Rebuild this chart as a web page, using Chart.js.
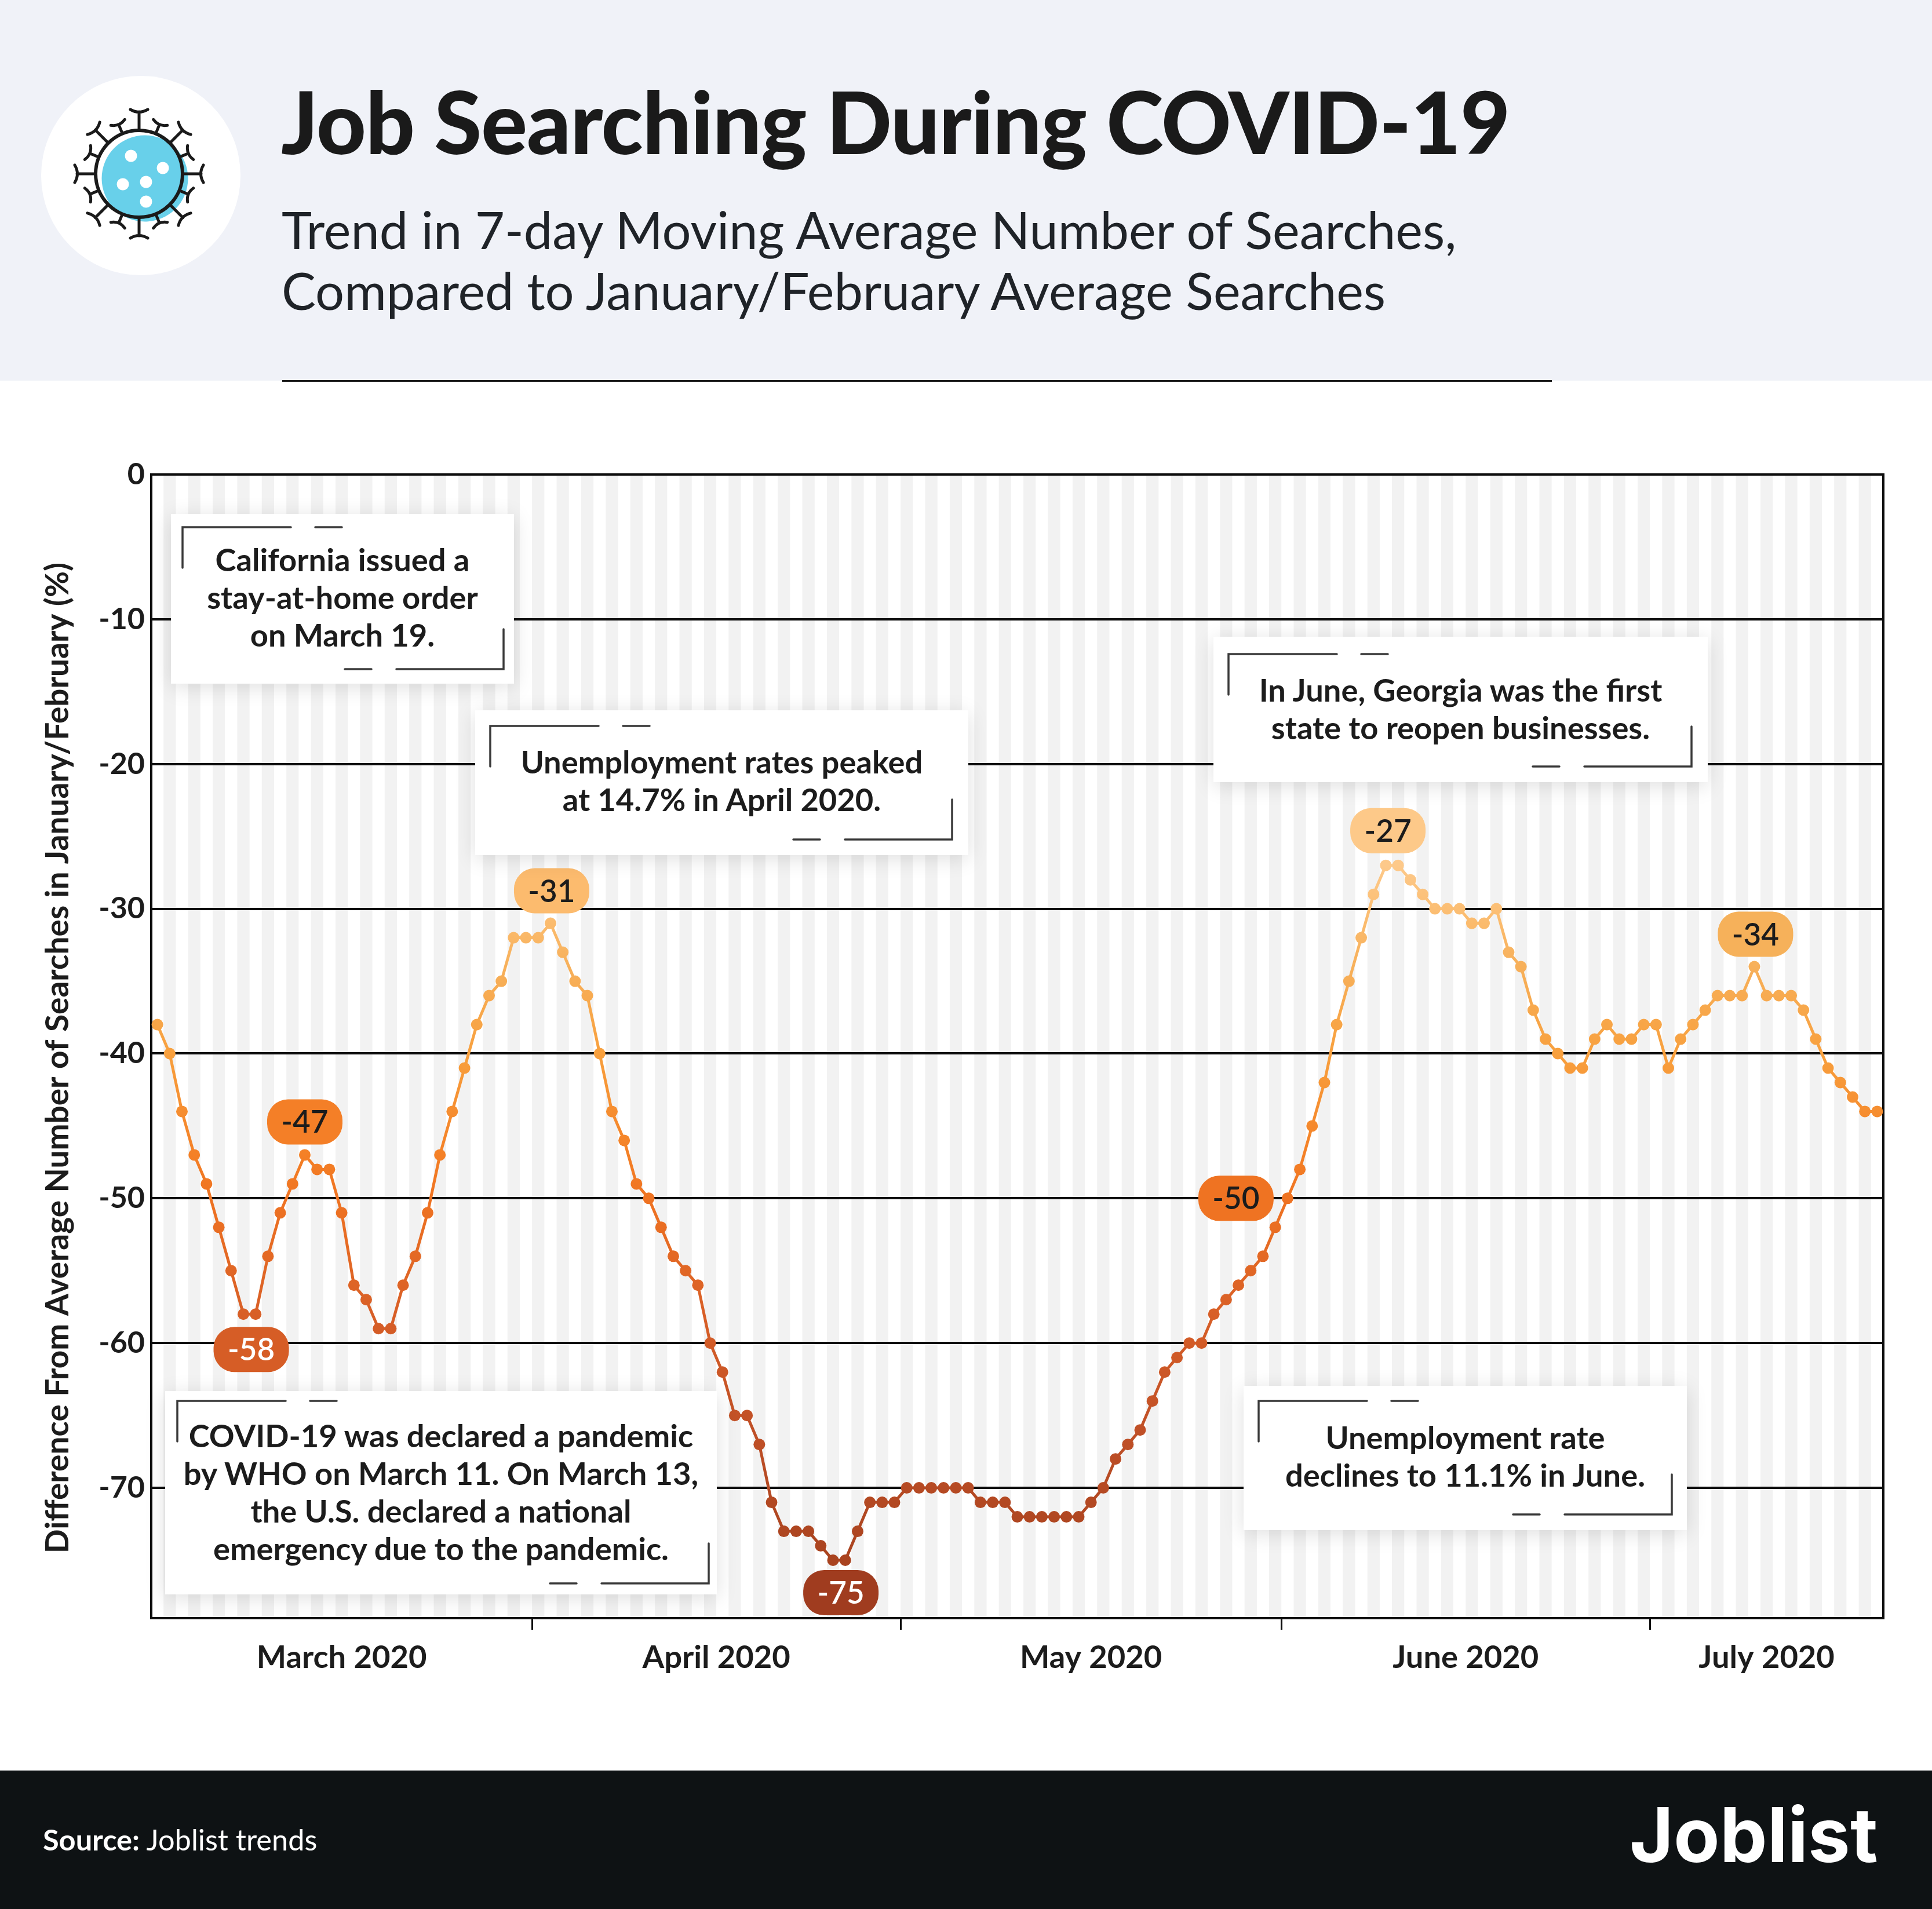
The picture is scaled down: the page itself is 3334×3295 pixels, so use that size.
<!DOCTYPE html>
<html>
<head>
<meta charset="utf-8">
<title>Job Searching During COVID-19</title>
<script src="https://cdn.jsdelivr.net/npm/chart.js@4"></script>
<style>
  html, body { margin: 0; padding: 0; background: #fff; }
  body { position: relative; width: 3334px; height: 3295px; overflow: hidden; font-family: Lato, sans-serif; color: #1c1c1c; }
  #entete { position: absolute; left: 0; top: 0; width: 3334px; height: 657px; background: #f0f2f8; }
  #rond { position: absolute; left: 71px; top: 131px; width: 344px; height: 344px; border-radius: 50%; background: #fff; }
  #virus { position: absolute; left: 68px; top: 128px; width: 344px; height: 344px; }
  #titre { position: absolute; left: 485px; top: 119px; font-size: 149px; line-height: 180px; font-weight: 900; letter-spacing: -1.05px; white-space: nowrap; color: #1a1a1a; }
  #soustitre { position: absolute; left: 486px; top: 344px; font-size: 88.3px; line-height: 105px; font-weight: 400; white-space: nowrap; color: #1f2328; }
  #filet { position: absolute; left: 487px; top: 656px; width: 2191px; height: 3px; background: #1a1a1a; }
  #graphe { position: absolute; left: 0; top: 700px; }
  .note { position: absolute; background: #fff; box-shadow: 0 6px 34px rgba(0,0,0,.13); }
  .note svg { position: absolute; left: 0; top: 0; }
  .note div { position: absolute; left: 0; right: 0; text-align: center; font-size: 54.3px; line-height: 65px; font-weight: 700; white-space: nowrap; color: #1c1c1c; }
  #pied { position: absolute; left: 0; top: 3056px; width: 3334px; height: 239px; background: #0e1214; color: #fff; }
  #source { position: absolute; left: 74px; top: 89px; font-size: 50.5px; line-height: 60px; white-space: nowrap; }
  #logo { position: absolute; left: 2812px; top: 31px; font-family: Inter, sans-serif; font-size: 130px; line-height: 160px; font-weight: 700; letter-spacing: 0; white-space: nowrap; }
</style>
</head>
<body>
<div id="entete">
  <div id="rond"></div>
  <svg id="virus" viewBox="-172 -172 344 344"></svg>
  <div id="titre">Job Searching During COVID-19</div>
  <div id="soustitre">Trend in 7-day Moving Average Number of Searches,<br>Compared to January/February Average Searches</div>
</div>
<div id="filet"></div>
<canvas id="graphe" width="3334" height="2300"></canvas>
<div id="pied">
  <div id="source"><b>Source:</b> Joblist trends</div>
  <div id="logo">Joblist</div>
</div>

<script>
// Données : une valeur par jour, du 1er mars au 19 juillet 2020
const jours = [];
for (let d = new Date(Date.UTC(2020, 2, 1)); d <= new Date(Date.UTC(2020, 6, 19)); d.setUTCDate(d.getUTCDate() + 1)) {
  jours.push(d.toISOString().slice(0, 10));
}
const recherches = [
  -38, -40, -44, -47, -49, -52, -55, -58, -58, -54, -51, -49, -47, -48, -48, -51, -56, -57, -59, -59, -56, -54, -51, -47, -44, -41, -38, -36, -35, -32, -32,
  -32, -31, -33, -35, -36, -40, -44, -46, -49, -50, -52, -54, -55, -56, -60, -62, -65, -65, -67, -71, -73, -73, -73, -74, -75, -75, -73, -71, -71, -71,
  -70, -70, -70, -70, -70, -70, -71, -71, -71, -72, -72, -72, -72, -72, -72, -71, -70, -68, -67, -66, -64, -62, -61, -60, -60, -58, -57, -56, -55, -54, -52,
  -50, -48, -45, -42, -38, -35, -32, -29, -27, -27, -28, -29, -30, -30, -30, -31, -31, -30, -33, -34, -37, -39, -40, -41, -41, -39, -38, -39, -39, -38, -38,
  -41, -39, -38, -37, -36, -36, -36, -34, -36, -36, -36, -37, -39, -41, -42, -43, -44, -44,
];
const graduationsY = [0, -10, -20, -30, -40, -50, -60, -70];
const minimumY = -79;

// index du premier jour de chaque mois (avril à juillet), et milieu de chaque mois
const debutsMois = [31, 61, 92, 122];
const milieuxMois = [15, 45.5, 76, 106.5, 131];
const nomsMois = ["March 2020", "April 2020", "May 2020", "June 2020", "July 2020"];

// pastilles : valeur affichée et position dans la série
const pastilleValeurs = [-47, -58, -31, -50, -75, -27, -34];
const pastilleIndex = [12, 7.5, 32, 92, 55.5, 100.5, 130];

// dégradé de la courbe suivant la valeur
const degradeValeurs = [-27, -31, -34, -40, -47, -50, -58, -66, -75];
const degradeCouleurs = ["#fdc98a", "#fbbb6d", "#f7b05a", "#f8a03e", "#f48026", "#ef7322", "#d85f27", "#c05027", "#a9431f"];

const NOIR = "#0d0d0d";
const POLICE = "Lato, sans-serif";

// style des pastilles, dans l'ordre de pastilleValeurs
const pastilleStyles = [
  { dx: 0, dy: -57, fond: "#f47f27", texte: "#1c1c1c" },
  { dx: 3, dy: 61, fond: "#d65d26", texte: "#ffffff" },
  { dx: 2, dy: -56, fond: "#fcbb6e", texte: "#1c1c1c" },
  { dx: -89, dy: 0, fond: "#ef7322", texte: "#1c1c1c" },
  { dx: 3, dy: 56, fond: "#a03c1f", texte: "#ffffff" },
  { dx: -7, dy: -60, fond: "#fdc989", texte: "#1c1c1c" },
  { dx: 2, dy: -56, fond: "#f6b15a", texte: "#1c1c1c" },
];

// encadrés de texte
const notes = [
  { x: 295, y: 887, l: 592, h: 293, cx: 20, cy: 23, dx: 18, dy: 25, haut: 46, lignes: ["California issued a", "stay-at-home order", "on March 19."] },
  { x: 820, y: 1226, l: 851, h: 250, cx: 26, cy: 27, dx: 28, dy: 27, haut: 56, lignes: ["Unemployment rates peaked", "at 14.7% in April 2020."] },
  { x: 2094, y: 1099, l: 853, h: 251, cx: 26, cy: 30, dx: 28, dy: 27, haut: 59, lignes: ["In June, Georgia was the first", "state to reopen businesses."] },
  { x: 285, y: 2401, l: 952, h: 351, cx: 21, cy: 17, dx: 14, dy: 19, haut: 44, lignes: ["COVID-19 was declared a pandemic", "by WHO on March 11. On March 13,", "the U.S. declared a national", "emergency due to the pandemic."] },
  { x: 2146, y: 2392, l: 765, h: 249, cx: 26, cy: 26, dx: 26, dy: 27, haut: 56, lignes: ["Unemployment rate", "declines to 11.1% in June."] },
];

function dessinerVirus() {
  let svg = "";
  svg += `<circle cx="10" cy="8" r="74.5" fill="#68d0ea"/>`;
  [[-14, -31], [41, -10], [-28, 18], [12, 14], [12, 48]].forEach(([x, y]) => {
    svg += `<circle cx="${x}" cy="${y}" r="10.5" fill="#fff"/>`;
  });
  svg += `<circle cx="0" cy="0" r="75" fill="none" stroke="#1a1a1a" stroke-width="6"/>`;
  for (let i = 0; i < 16; i++) {
    const angle = i * 22.5;
    const forme = i % 2 === 0
      ? "M0,-76 V-107 M-15,-111 Q0,-102 15,-111"
      : "M0,-76 V-90 M-13,-96 Q0,-88 13,-96";
    svg += `<path d="${forme}" transform="rotate(${angle})" fill="none" stroke="#1a1a1a" stroke-width="5" stroke-linecap="round"/>`;
  }
  document.getElementById("virus").innerHTML = svg;
}

function dessinerNotes() {
  notes.forEach((n) => {
    const boite = document.createElement("div");
    boite.className = "note";
    boite.style.cssText = `left:${n.x}px;top:${n.y}px;width:${n.l}px;height:${n.h}px`;
    const rx = n.l - n.dx;
    const ry = n.h - n.dy;
    const traits = [
      `M${n.cx},${n.cy + 70} V${n.cy} H${n.cx + 187}`,
      `M${n.cx + 229},${n.cy} H${n.cx + 275}`,
      `M${rx},${ry - 69} V${ry} H${rx - 185}`,
      `M${rx - 228},${ry} H${rx - 274}`,
    ];
    boite.innerHTML = `<svg width="${n.l}" height="${n.h}"><path d="${traits.join(" ")}" fill="none" stroke="#3a3a3a" stroke-width="3.5" stroke-linecap="round"/></svg>`
      + n.lignes.map((ligne, i) => `<div style="top:${n.haut + i * 65}px">${ligne}</div>`).join("");
    document.body.appendChild(boite);
  });
}

function couleurDegrade(chart) {
  const y = chart.scales.y;
  if (!y || !chart.chartArea) return degradeCouleurs[0];
  const haut = y.getPixelForValue(degradeValeurs[0]);
  const bas = y.getPixelForValue(degradeValeurs[degradeValeurs.length - 1]);
  const degrade = chart.ctx.createLinearGradient(0, haut, 0, bas);
  degradeValeurs.forEach((v, i) => {
    degrade.addColorStop((y.getPixelForValue(v) - haut) / (bas - haut), degradeCouleurs[i]);
  });
  return degrade;
}

// bandes grises, un jour sur deux
const bandes = {
  id: "bandes",
  beforeDraw(chart) {
    const { ctx, chartArea: a, scales: { x } } = chart;
    const largeur = x.getPixelForValue(1) - x.getPixelForValue(0);
    ctx.save();
    ctx.fillStyle = "#f2f2f2";
    jours.forEach((j, i) => {
      if (i % 2 === 1) ctx.fillRect(x.getPixelForValue(i) - largeur / 2, a.top, largeur, a.bottom - a.top);
    });
    ctx.restore();
  },
};

// cadre noir autour du tracé
const cadre = {
  id: "cadre",
  beforeDatasetsDraw(chart) {
    const { ctx, chartArea: a } = chart;
    ctx.save();
    ctx.strokeStyle = NOIR;
    ctx.lineWidth = 4;
    ctx.strokeRect(a.left, a.top, a.right - a.left, a.bottom - a.top);
    ctx.restore();
  },
};

const pastilles = {
  id: "pastilles",
  afterDatasetsDraw(chart) {
    const { ctx, scales: { x, y } } = chart;
    ctx.save();
    ctx.font = `600 53px ${POLICE}`;
    ctx.textAlign = "center";
    ctx.textBaseline = "middle";
    pastilleValeurs.forEach((v, i) => {
      const s = pastilleStyles[i];
      const px = x.getPixelForValue(pastilleIndex[i]) + s.dx;
      const py = y.getPixelForValue(v) + s.dy;
      ctx.fillStyle = s.fond;
      ctx.beginPath();
      ctx.roundRect(px - 65, py - 39, 130, 78, 36);
      ctx.fill();
      ctx.fillStyle = s.texte;
      ctx.fillText(String(v), px, py + 2);
    });
    ctx.restore();
  },
};

function dessinerGraphe() {
  new Chart(document.getElementById("graphe"), {
    type: "line",
    data: {
      labels: jours,
      datasets: [{
        data: recherches,
        borderColor: (c) => couleurDegrade(c.chart),
        pointBackgroundColor: (c) => couleurDegrade(c.chart),
        pointBorderWidth: 0,
        pointRadius: 10,
        borderWidth: 5,
        tension: 0,
      }],
    },
    plugins: [bandes, cadre, pastilles],
    options: {
      responsive: false,
      devicePixelRatio: 1,
      animation: false,
      layout: { padding: { top: 119, right: 84, bottom: 0, left: 0 } },
      plugins: { legend: { display: false }, tooltip: { enabled: false } },
      scales: {
        x: {
          type: "category",
          offset: true,
          border: { color: NOIR, width: 4 },
          grid: {
            offset: true,
            drawOnChartArea: false,
            tickLength: 20,
            tickWidth: 3,
            lineWidth: 3,
            tickColor: (c) => (debutsMois.includes(c.index) ? NOIR : "rgba(0,0,0,0)"),
          },
          ticks: { autoSkip: false, maxRotation: 0, padding: 0, callback: () => "" },
          afterFit(scale) { scale.height = 20; },
        },
        xMois: {
          type: "linear",
          axis: "x",
          position: "bottom",
          weight: 1,
          min: -0.5,
          max: jours.length - 0.5,
          display: true,
          grid: { display: false },
          border: { display: false },
          afterBuildTicks(scale) { scale.ticks = milieuxMois.map((v) => ({ value: v })); },
          ticks: {
            autoSkip: false,
            maxRotation: 0,
            padding: 8,
            color: "#1c1c1c",
            font: { family: POLICE, size: 54.3, weight: 700 },
            callback: (v, i) => nomsMois[i],
          },
          afterFit(scale) { scale.height = 187; },
        },
        y: {
          min: minimumY,
          max: 0,
          border: { color: NOIR, width: 4 },
          grid: { color: NOIR, lineWidth: 4, drawTicks: false },
          afterBuildTicks(scale) { scale.ticks = graduationsY.map((v) => ({ value: v })); },
          ticks: {
            padding: 11,
            color: "#1c1c1c",
            font: { family: POLICE, size: 52, weight: 700 },
            callback: (v) => String(v),
          },
          title: {
            display: true,
            // les espaces insécables décalent le titre vers le bas, comme sur l'original
            text: "Difference From Average Number of Searches in January/February (%)\u00A0\u00A0\u00A0",
            color: "#1c1c1c",
            font: { family: POLICE, size: 55, weight: 700 },
            padding: { top: 67, bottom: 0 },
          },
          afterFit(scale) { scale.width = 261; },
        },
      },
    },
  });
}

dessinerVirus();
dessinerNotes();
dessinerGraphe();
</script>
</body>
</html>
